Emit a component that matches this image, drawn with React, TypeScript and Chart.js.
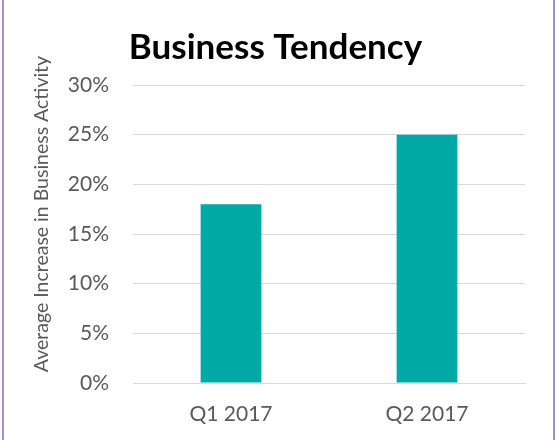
import React, { useEffect, useRef } from "react";
import { Chart, registerables } from "chart.js";

Chart.register(...registerables);

const categories = ["Q1 2017", "Q2 2017"];
const values = [18, 25];
const yTicks = [0, 5, 10, 15, 20, 25, 30];

export default function App() {
  const ref = useRef<HTMLCanvasElement | null>(null);
  useEffect(() => {
    document.body.style.margin = "0";
    const ctx = ref.current!;
    const chart = new Chart(ctx, {
      type: "bar",
      data: {
        labels: categories,
        datasets: [
          {
            data: values,
            backgroundColor: "#00A9A5",
            borderWidth: 0,
            barPercentage: 0.31,
            categoryPercentage: 1,
          },
        ],
      },
      options: {
        animation: false,
        responsive: false,
        layout: { padding: { left: 26, right: 32, top: 27, bottom: 13 } },
        plugins: {
          legend: { display: false },
          tooltip: { enabled: false },
          title: {
            display: true,
            text: "Business Tendency",
            color: "#000000",
            font: { family: "Lato", size: 35, weight: "bold", lineHeight: 1.2 },
            padding: { top: 0, bottom: 16 },
          },
        },
        scales: {
          x: {
            grid: { display: false, drawTicks: false },
            border: { display: true, color: "#D9D9D9", width: 1 },
            ticks: {
              color: "#595959",
              font: { family: "Lato", size: 21 },
              padding: 19,
              maxRotation: 0,
            },
            afterFit: (axis: any) => {
              axis.height = 44;
            },
          },
          y: {
            min: 0,
            max: 30,
            afterBuildTicks: (axis: any) => {
              axis.ticks = yTicks.map((v) => ({ value: v }));
            },
            afterFit: (axis: any) => {
              axis.width = 107;
            },
            grid: { color: "#D9D9D9", drawTicks: false },
            border: { display: false },
            ticks: {
              color: "#595959",
              font: { family: "Lato", size: 21 },
              padding: 24,
              callback: (v: any) => v + "%",
            },
            title: {
              display: true,
              text: "        Average Increase in Business Activity",
              color: "#595959",
              font: { family: "Lato", size: 19.5, lineHeight: 1.2 },
              padding: { top: 4, bottom: 14 },
            },
          },
        },
      },
    });
    return () => chart.destroy();
  }, []);
  return (
    <div style={{ position: "fixed", left: 0, top: 0, width: 557, height: 440, background: "#fff" }}>
      <canvas ref={ref} width={557} height={440} style={{ display: "block" }} />
      <div style={{ position: "absolute", left: 2, top: 0, width: 2, height: 440, background: "#A48BC9" }} />
      <div style={{ position: "absolute", left: 553, top: 0, width: 2, height: 440, background: "#A48BC9" }} />
    </div>
  );
}
